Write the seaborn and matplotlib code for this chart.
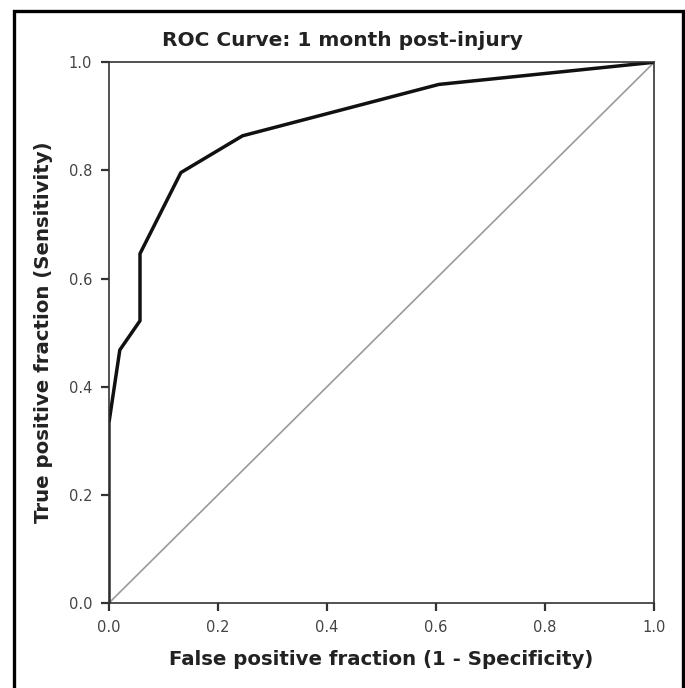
from __future__ import annotations

import matplotlib

matplotlib.use("Agg")

import numpy as np
import pandas as pd
import matplotlib.pyplot as plt
import seaborn as sns
from matplotlib.patches import Rectangle

# ROC points
fpr = [0.0, 0.0, 0.02, 0.057, 0.057, 0.132, 0.245, 0.605, 1.0]
tpr = [0.0, 0.333, 0.468, 0.522, 0.646, 0.796, 0.864, 0.959, 1.0]
chance = [0.0, 1.0]
ticks = [0.0, 0.2, 0.4, 0.6, 0.8, 1.0]
tick_labels = ["0.0", "0.2", "0.4", "0.6", "0.8", "1.0"]


def main() -> None:
    sns.set_theme(style="ticks")
    plt.rcParams["font.family"] = ["DejaVu Sans"]

    fig = plt.figure(figsize=(6.85, 6.88), dpi=100)
    ax = fig.add_axes([0.159, 0.1235, 0.796, 0.786])

    roc = pd.DataFrame({"fpr": fpr, "tpr": tpr})
    diag = pd.DataFrame({"x": chance, "y": chance})

    sns.lineplot(data=diag, x="x", y="y", ax=ax, color="#9a9a9a", linewidth=1.2)
    sns.lineplot(data=roc, x="fpr", y="tpr", ax=ax, sort=False, estimator=None,
                 color="#111111", linewidth=2.5)

    ax.set_xlim(0, 1)
    ax.set_ylim(0, 1)
    ax.set_xticks(ticks)
    ax.set_xticklabels(tick_labels)
    ax.set_yticks(ticks)
    ax.set_yticklabels(tick_labels)
    ax.tick_params(direction="out", length=6, width=1.6, color="#333333",
                   labelsize=10.5, labelcolor="#444444", pad=6)
    for side in ["left", "right", "top", "bottom"]:
        ax.spines[side].set_visible(True)
        ax.spines[side].set_linewidth(1.2)
        ax.spines[side].set_color("#333333")

    # title sits centred on the figure rather than on the axes
    fig.text(342 / 685, 1 - 40 / 688, "ROC Curve: 1 month post-injury", fontsize=14.5,
             fontweight="bold", color="#222222", ha="center", va="center")
    ax.set_xlabel("False positive fraction (1 - Specificity)", fontsize=14.2,
                  fontweight="bold", color="#222222", labelpad=11)
    ax.set_ylabel("True positive fraction (Sensitivity)", fontsize=14.2,
                  fontweight="bold", color="#222222", labelpad=11)

    # frame around the whole picture (bottom edge runs off the image)
    fig.patches.append(Rectangle((14 / 685, -0.02), 669 / 685, 1.02 - 11 / 688,
                                 transform=fig.transFigure, fill=False,
                                 edgecolor="black", linewidth=2.4, zorder=10))

    fig.savefig("out.png", dpi=100)
    plt.close(fig)


if __name__ == "__main__":
    main()
